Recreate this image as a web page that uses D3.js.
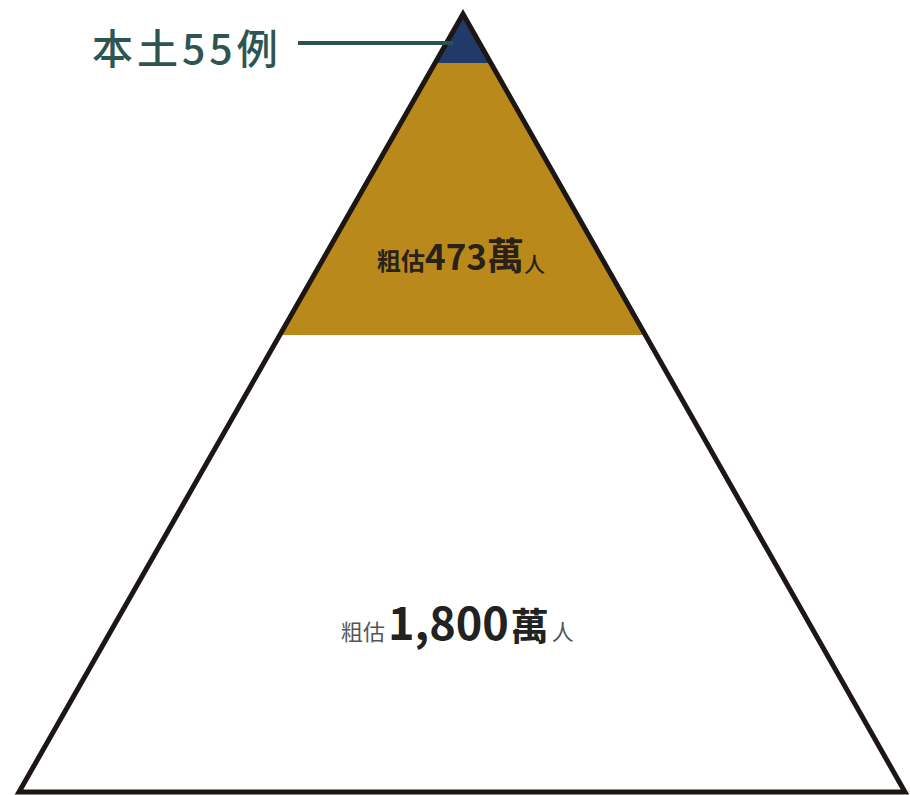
<!DOCTYPE html>
<html>
<head>
<meta charset="utf-8">
<script src="https://cdn.jsdelivr.net/npm/d3@7"></script>
<style>
  html, body { margin: 0; padding: 0; background: #fff; }
  svg { display: block; }
</style>
</head>
<body>
<div id="chart"></div>
<script>
// 金字塔各層（由頂到底）
const layers = ["本土55例", "粗估473萬人", "粗估1,800萬人"];
// 每層底部佔整體高度的比例
const layerEnds = [0.063, 0.413, 1];
const layerColors = ["#213a68", "#b98a1b", "#ffffff"];

const width = 910, height = 795;
const apex = { x: 463, y: 14 };
const base = { left: 19, right: 905, y: 792 };

const svg = d3.select("#chart")
  .append("svg")
  .attr("width", width)
  .attr("height", height)
  .style("font-family", "'Noto Sans CJK TC', 'Noto Sans', sans-serif");

// 高度比例 -> y
const y = d3.scaleLinear().domain([0, 1]).range([apex.y, base.y]);
// 高度比例 -> 半寬
const half = d3.scaleLinear().domain([0, 1]).range([0, (base.right - base.left) / 2]);
const cx = (base.left + base.right) / 2;
const skew = apex.x - cx; // 頂點偏移
const xl = t => cx + skew * (1 - t) - half(t);
const xr = t => cx + skew * (1 - t) + half(t);

const line = d3.line();

// 畫每一層
layerEnds.forEach((end, i) => {
  const start = i === 0 ? 0 : layerEnds[i - 1];
  const pts = [
    [xl(start), y(start)], [xr(start), y(start)],
    [xr(end), y(end)], [xl(end), y(end)]
  ];
  svg.append("path")
     .attr("d", line(pts) + "Z")
     .attr("fill", layerColors[i]);
});

// 外框
svg.append("path")
   .attr("d", line([[xl(0), y(0)], [xr(1), y(1)], [xl(1), y(1)]]) + "Z")
   .attr("fill", "none")
   .attr("stroke", "#1c1614")
   .attr("stroke-width", 5)
   .attr("stroke-linejoin", "miter");

// 頂層標籤與指引線
svg.append("line")
   .attr("x1", 298).attr("x2", 453)
   .attr("y1", 43).attr("y2", 43)
   .attr("stroke", "#2b5250")
   .attr("stroke-width", 4);

svg.append("text")
   .attr("x", 92)
   .attr("y", 64)
   .attr("fill", "#2e5552")
   .style("font-size", "41px")
   .style("font-weight", 500)
   .style("letter-spacing", "4px")
   .text(layers[0]);

// 中層標籤
const mid = svg.append("text")
   .attr("x", 377)
   .attr("y", 270)
   .attr("fill", "#2a211a")
   .style("font-weight", 700);
mid.append("tspan").style("font-size", "24px").text("粗估");
mid.append("tspan").style("font-size", "35px").text("473");
mid.append("tspan").style("font-size", "37px").text("萬");
mid.append("tspan").style("font-size", "21px").style("font-weight", 500).attr("dy", 2).text("人");

// 底層標籤
const low = svg.append("text")
   .attr("x", 341)
   .attr("y", 640)
   .attr("fill", "#222");
low.append("tspan").style("font-size", "22px").attr("fill", "#555").text("粗估");
low.append("tspan").style("font-size", "45px").style("font-weight", 600).attr("dx", 3).text("1,800");
low.append("tspan").style("font-size", "38px").style("font-weight", 700).attr("dx", 2).text("萬");
low.append("tspan").style("font-size", "22px").attr("fill", "#555").attr("dx", 3).text("人");
</script>
</body>
</html>
